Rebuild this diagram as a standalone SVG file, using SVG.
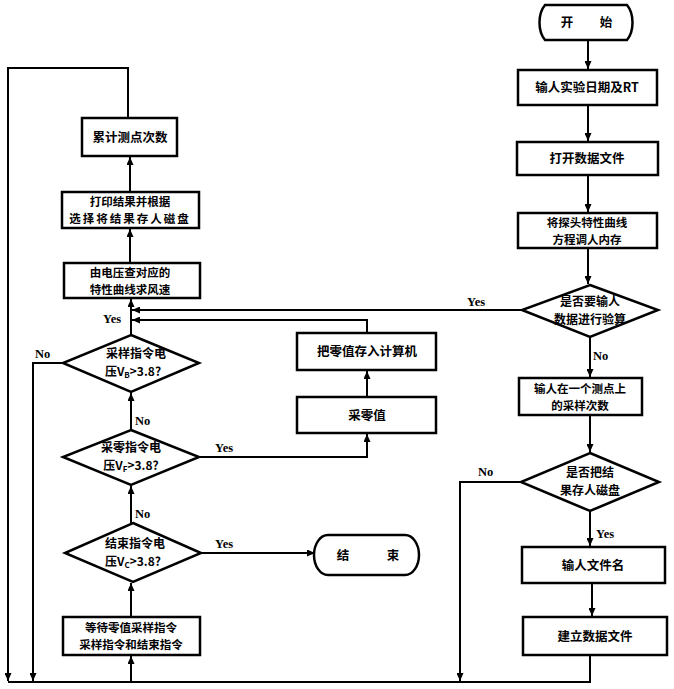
<svg xmlns="http://www.w3.org/2000/svg" width="674" height="689" viewBox="0 0 674 689">
<style>
.box{fill:#fff;stroke:#000;stroke-width:2.5}
.ln{fill:none;stroke:#000;stroke-width:2}
.t{font-family:"Noto Sans CJK SC","Noto Sans",sans-serif;font-weight:bold;font-size:12.5px;fill:#000;text-anchor:middle}
.t2{font-size:11.5px}
.d{font-size:12px}
.l{font-family:"Liberation Serif",serif;font-weight:bold;font-size:12.5px;fill:#000}
.s{font-size:8px}
</style>
<defs>
<marker id="a" markerUnits="userSpaceOnUse" markerWidth="8" markerHeight="7" refX="8" refY="3.5" orient="auto">
<path d="M0,0 L8,3.5 L0,7 z" fill="#000"/>
</marker>
</defs>
<rect width="674" height="689" fill="#fff"/>
<g id="connectors">
<path class="ln" d="M128,118 V68 H8 V681" marker-end="url(#a)"/>
<path class="ln" d="M130,192 V157" marker-end="url(#a)"/>
<path class="ln" d="M130,263 V229" marker-end="url(#a)"/>
<path class="ln" d="M131,335 V299" marker-end="url(#a)"/>
<path class="ln" d="M522,310 H132" marker-end="url(#a)"/>
<path class="ln" d="M367,333 V320 H132" marker-end="url(#a)"/>
<path class="ln" d="M63,363 H33 V681" marker-end="url(#a)"/>
<path class="ln" d="M131,430 V393" marker-end="url(#a)"/>
<path class="ln" d="M199,457 H367 V434" marker-end="url(#a)"/>
<path class="ln" d="M367,397 V371" marker-end="url(#a)"/>
<path class="ln" d="M131,523 V486" marker-end="url(#a)"/>
<path class="ln" d="M199,553 H315" marker-end="url(#a)"/>
<path class="ln" d="M131,617 V583" marker-end="url(#a)"/>
<path class="ln" d="M590,655 V682 H8"/>
<path class="ln" d="M131,682 V656" marker-end="url(#a)"/>
<path class="ln" d="M521,482 H460 V681" marker-end="url(#a)"/>
<path class="ln" d="M588,40 V69" marker-end="url(#a)"/>
<path class="ln" d="M588,105 V141" marker-end="url(#a)"/>
<path class="ln" d="M588,175 V212" marker-end="url(#a)"/>
<path class="ln" d="M588,248 V284" marker-end="url(#a)"/>
<path class="ln" d="M590,337 V377" marker-end="url(#a)"/>
<path class="ln" d="M590,415 V452" marker-end="url(#a)"/>
<path class="ln" d="M590,511 V546" marker-end="url(#a)"/>
<path class="ln" d="M592,583 V616" marker-end="url(#a)"/>
</g>
<g id="labels">
<text class="l" x="103" y="323">Yes</text>
<text class="l" x="35" y="358">No</text>
<text class="l" x="135" y="425">No</text>
<text class="l" x="215" y="452">Yes</text>
<text class="l" x="135" y="518">No</text>
<text class="l" x="215" y="548">Yes</text>
<text class="l" x="467" y="306">Yes</text>
<text class="l" x="593" y="360">No</text>
<text class="l" x="478" y="476">No</text>
<text class="l" x="596" y="538">Yes</text>
</g>
<g id="start">
<path class="box" d="M545,5 H627 A14,22 0 0 1 627,40 H545 A14,22 0 0 1 545,5 Z"/>
<text class="t" y="27"><tspan x="567">开</tspan><tspan x="606">始</tspan></text>
</g>
<g id="n_input_date">
<rect class="box" x="518" y="70" width="139" height="35"/>
<text class="t" x="587" y="92">输人实验日期及RT</text>
</g>
<g id="n_open_file">
<rect class="box" x="517" y="142" width="141" height="33"/>
<text class="t" x="587" y="163">打开数据文件</text>
</g>
<g id="n_load_curve">
<rect class="box" x="518" y="213" width="139" height="35"/>
<text class="t t2" x="587" y="227">将探头特性曲线</text>
<text class="t t2" x="587" y="244">方程调人内存</text>
</g>
<g id="d_verify">
<polygon class="box" points="590,285 658,310 590,337 522,310"/>
<text class="t d" x="590" y="306">是否要输人</text>
<text class="t d" x="590" y="324">数据进行验算</text>
</g>
<g id="n_sample_count">
<rect class="box" x="519" y="378" width="123" height="37"/>
<text class="t t2" x="580" y="393">输人在一个测点上</text>
<text class="t t2" x="580" y="410">的采样次数</text>
</g>
<g id="d_save">
<polygon class="box" points="590,453 659,482 590,511 521,482"/>
<text class="t d" x="590" y="477">是否把结</text>
<text class="t d" x="590" y="495">果存人磁盘</text>
</g>
<g id="n_filename">
<rect class="box" x="522" y="547" width="143" height="36"/>
<text class="t" x="593" y="570">输人文件名</text>
</g>
<g id="n_create_file">
<rect class="box" x="523" y="617" width="144" height="38"/>
<text class="t" x="595" y="641">建立数据文件</text>
</g>
<g id="n_count">
<rect class="box" x="82" y="118" width="95" height="38"/>
<text class="t" x="130" y="142">累计测点次数</text>
</g>
<g id="n_print">
<rect class="box" x="62" y="192" width="137" height="36"/>
<text class="t t2" x="130" y="206">打印结果并根据</text>
<text class="t t2" x="130" y="223" letter-spacing="2">选择将结果存人磁盘</text>
</g>
<g id="n_speed">
<rect class="box" x="64" y="263" width="136" height="35"/>
<text class="t t2" x="130" y="277">由电压查对应的</text>
<text class="t t2" x="130" y="294">特性曲线求风速</text>
</g>
<g id="d_sample">
<polygon class="box" points="131,335 199,363 131,392 63,363"/>
<text class="t d" x="136" y="358">采样指令电</text>
<text class="t d" x="133" y="376">压V<tspan class="s" dy="2">B</tspan><tspan dy="-2">&gt;3.8?</tspan></text>
</g>
<g id="d_zero">
<polygon class="box" points="131,430 199,457 131,485 63,457"/>
<text class="t d" x="131" y="452">采零指令电</text>
<text class="t d" x="131" y="470">压V<tspan class="s" dy="2">F</tspan><tspan dy="-2">&gt;3.8?</tspan></text>
</g>
<g id="d_end">
<polygon class="box" points="133,523 201,553 133,582 65,553"/>
<text class="t d" x="135" y="548">结束指令电</text>
<text class="t d" x="133" y="566">压V<tspan class="s" dy="2">C</tspan><tspan dy="-2">&gt;3.8?</tspan></text>
</g>
<g id="n_store_zero">
<rect class="box" x="297" y="333" width="139" height="37"/>
<text class="t" x="367" y="356">把零值存入计算机</text>
</g>
<g id="n_take_zero">
<rect class="box" x="297" y="397" width="139" height="36"/>
<text class="t" x="367" y="420">采零值</text>
</g>
<g id="end">
<path class="box" d="M328,535 H405 A14,20 0 0 1 405,575 H328 A14,20 0 0 1 328,535 Z"/>
<text class="t" y="560"><tspan x="343">结</tspan><tspan x="393">束</tspan></text>
</g>
<g id="n_wait">
<rect class="box" x="63" y="617" width="137" height="38"/>
<text class="t t2" x="131" y="632">等待零值采样指令</text>
<text class="t t2" x="131" y="649">采样指令和结束指令</text>
</g>
</svg>
